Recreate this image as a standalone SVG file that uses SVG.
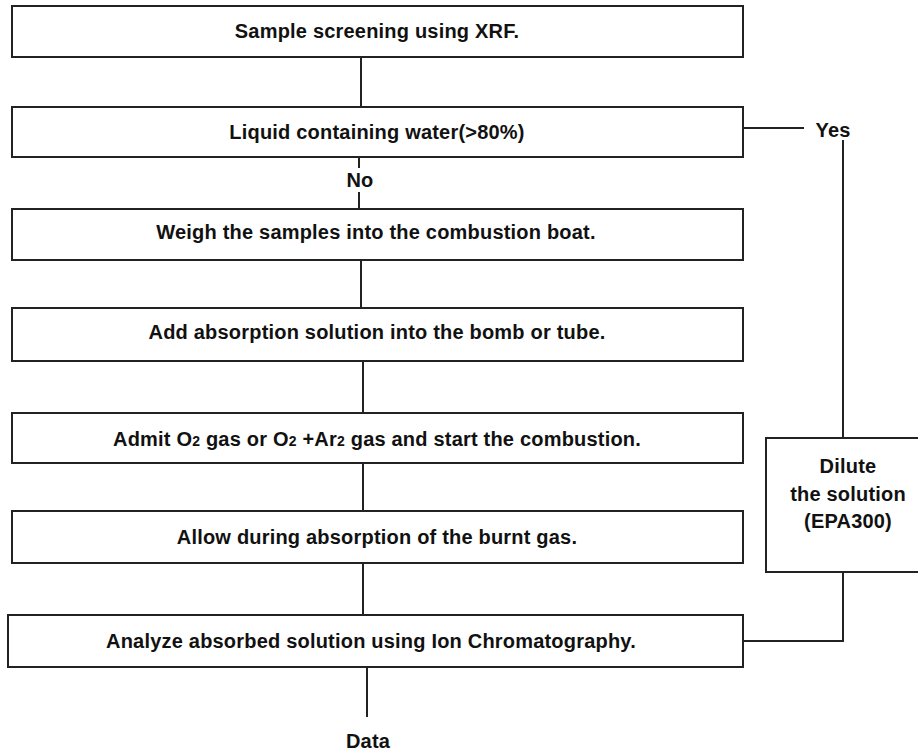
<svg xmlns="http://www.w3.org/2000/svg" width="918" height="752" viewBox="0 0 918 752">
<style>
.box{fill:#fff;stroke:#222;stroke-width:2}
.ln{fill:none;stroke:#222;stroke-width:2}
.t{font-family:"Liberation Sans",Arial,sans-serif;font-weight:bold;font-size:20px;letter-spacing:0.2px;fill:#111;text-anchor:middle}
.s{font-size:14px}
</style>
<rect width="918" height="752" fill="#fff"/>
<g id="connectors">
<line class="ln" x1="361" y1="57" x2="361" y2="107"/>
<line class="ln" x1="359" y1="157" x2="359" y2="168"/>
<line class="ln" x1="359" y1="192" x2="359" y2="209"/>
<line class="ln" x1="361" y1="260" x2="361" y2="308"/>
<line class="ln" x1="363" y1="361" x2="363" y2="413"/>
<line class="ln" x1="363" y1="463" x2="363" y2="511"/>
<line class="ln" x1="363" y1="563" x2="363" y2="615"/>
<line class="ln" x1="367" y1="667" x2="367" y2="717"/>
<line class="ln" x1="741" y1="128" x2="804" y2="128"/>
<line class="ln" x1="843" y1="140" x2="843" y2="438"/>
<polyline class="ln" points="843,572 843,641 743,641"/>
<text class="t" x="360" y="187">No</text>
<text class="t" x="833" y="137">Yes</text>
<text class="t" x="368" y="748">Data</text>
</g>
<g id="n1"><rect class="box" x="12" y="6" width="731" height="51"/><text class="t" x="377" y="38">Sample screening using XRF.</text></g>
<g id="n2"><rect class="box" x="12" y="107" width="731" height="50"/><text class="t" x="377" y="139">Liquid containing water(&gt;80%)</text></g>
<g id="n3"><rect class="box" x="12" y="209" width="731" height="51"/><text class="t" x="376" y="239">Weigh the samples into the combustion boat.</text></g>
<g id="n4"><rect class="box" x="12" y="308" width="731" height="53"/><text class="t" x="377" y="339">Add absorption solution into the bomb or tube.</text></g>
<g id="n5"><rect class="box" x="12" y="413" width="731" height="50"/><text class="t" x="377" y="446">Admit O<tspan class="s">2</tspan> gas or O<tspan class="s">2</tspan> +Ar<tspan class="s">2</tspan> gas and start the combustion.</text></g>
<g id="n6"><rect class="box" x="12" y="511" width="731" height="52"/><text class="t" x="377" y="544">Allow during absorption of the burnt gas.</text></g>
<g id="n7"><rect class="box" x="8" y="615" width="735" height="52"/><text class="t" x="371" y="648">Analyze absorbed solution using Ion Chromatography.</text></g>
<g id="n8"><rect class="box" x="766" y="438" width="160" height="134"/>
<text class="t" x="848" y="473">Dilute</text>
<text class="t" x="848" y="501">the solution</text>
<text class="t" x="848" y="528">(EPA300)</text></g>
</svg>
